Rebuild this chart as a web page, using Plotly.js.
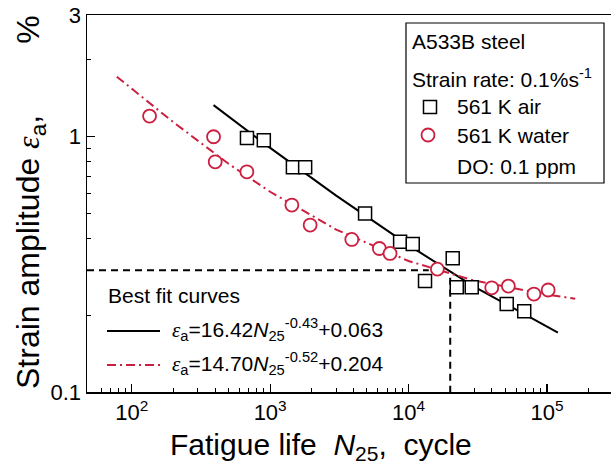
<!DOCTYPE html>
<html><head><meta charset="utf-8">
<script src="https://cdn.plot.ly/plotly-3.0.1.min.js"></script>
<style>html,body{margin:0;padding:0;overflow:hidden;background:#fff}</style>
</head><body><div id="chart" style="width:620px;height:471px"></div>
<script>
// ---- data ----
const airN = [680, 900, 1460, 1790, 4850, 8690, 10720, 13150, 20850, 22300, 28600, 51200, 68500];
const airStrain = [0.99, 0.97, 0.76, 0.76, 0.50, 0.388, 0.380, 0.272, 0.334, 0.257, 0.257, 0.221, 0.207];
const waterN = [134.5, 390, 401, 679, 1435, 1945, 3890, 6150, 7350, 16150, 39900, 52600, 80500, 102000];
const waterStrain = [1.205, 1.0, 0.798, 0.729, 0.540, 0.451, 0.396, 0.365, 0.349, 0.303, 0.256, 0.260, 0.242, 0.251];
const fitAirN = [390, 1000, 3000, 10000, 30000, 120000];
const fitAirStrain = [1.33, 0.905, 0.588, 0.376, 0.258, 0.171];
const fitWaterN = [78, 200, 500, 1000, 3000, 10000, 30000, 100000, 160000];
const fitWaterStrain = [1.72, 1.14, 0.784, 0.609, 0.433, 0.326, 0.273, 0.241, 0.232];
const refHN = [47.5, 14000];
const refHStrain = [0.3, 0.3];
const refVN = [20000, 20000];
const refVStrain = [0.28, 0.1];
const xTickVals = [100, 1000, 10000, 100000];
const xTickText = ['10<sup>2</sup>', '10<sup>3</sup>', '10<sup>4</sup>', '10<sup>5</sup>'];
const xMinorVals = [60,70,80,90,200,300,400,500,600,700,800,900,2000,3000,4000,5000,6000,7000,8000,9000,
                    20000,30000,40000,50000,60000,70000,80000,90000,200000];
const yTickVals = [0.1, 1, 3];
const yTickText = ['0.1', '1', '3'];
const yMinorVals = [0.2, 0.3, 0.4, 0.5, 0.6, 0.7, 0.8, 0.9, 2];
const airLabel = '561 K air';
const waterLabel = '561 K water';
const EPS = '<span style="font-family:Liberation Serif"><i>ε</i></span>';
const fitAirLabel = EPS + '<sub>a</sub>=16.42<i>N</i><sub>25</sub><sup>-0.43</sup>+0.063';
const fitWaterLabel = EPS + '<sub>a</sub>=14.70<i>N</i><sub>25</sub><sup>-0.52</sup>+0.204';

// ---- layout helpers ----
const L = 87, T = 15, W = 526, H = 377;
const px = x => (x - L) / W;
const py = y => (T + H - y) / H;
const RED = '#cc1f3f';
const FONT = 'Liberation Sans, Arial, sans-serif';
const LF = 21;
const NB = '\u00a0';

const traces = [
  {x: refHN, y: refHStrain, mode: 'lines', line: {color: 'black', width: 2, dash: '7px,5px'}, showlegend: false, hoverinfo: 'skip'},
  {x: refVN, y: refVStrain, mode: 'lines', line: {color: 'black', width: 2, dash: '7px,5px'}, showlegend: false, hoverinfo: 'skip'},
  {x: fitAirN, y: fitAirStrain, mode: 'lines', name: fitAirLabel, line: {color: 'black', width: 2}, showlegend: false},
  {x: fitWaterN, y: fitWaterStrain, mode: 'lines', name: fitWaterLabel, line: {color: RED, width: 2, dash: '9px,4px,2px,4px'}, showlegend: false},
  {x: airN, y: airStrain, mode: 'markers', name: airLabel, showlegend: false,
   marker: {symbol: 'square', size: 13, color: 'white', line: {color: 'black', width: 1.5}}},
  {x: waterN, y: waterStrain, mode: 'markers', name: waterLabel, showlegend: false,
   marker: {symbol: 'circle', size: 13, color: 'white', line: {color: RED, width: 1.8}}}
];

function ann(x, y, text, size, extra) {
  return Object.assign({xref: 'paper', yref: 'paper', x: px(x), y: py(y), xanchor: 'left', yanchor: 'middle',
    showarrow: false, text: text, font: {size: size || LF}}, extra || {});
}

const layout = {
  width: 620, height: 471,
  margin: {l: L, r: 620 - L - W, t: T, b: 471 - T - H},
  paper_bgcolor: 'white', plot_bgcolor: 'white',
  font: {family: FONT, color: 'black', size: 20},
  showlegend: false,
  xaxis: {
    type: 'log', range: [Math.log10(47.5), Math.log10(3e5)],
    tickmode: 'array', tickvals: xTickVals, ticktext: xTickText,
    ticks: 'inside', ticklen: 8, tickwidth: 1.2, tickcolor: 'black',
    showline: true, linecolor: 'black', linewidth: 1.5, mirror: true,
    showgrid: false, zeroline: false, tickfont: {size: 22},
    minor: {tickmode: 'array', tickvals: xMinorVals, ticks: 'inside', ticklen: 4, tickwidth: 1, tickcolor: 'black', showgrid: false}
  },
  yaxis: {
    type: 'log', range: [-1, Math.log10(3)],
    tickmode: 'array', tickvals: yTickVals, ticktext: yTickText,
    ticks: 'inside', ticklen: 8, tickwidth: 1.2, tickcolor: 'black',
    showline: true, linecolor: 'black', linewidth: 1.5, mirror: true,
    showgrid: false, zeroline: false, tickfont: {size: 22},
    minor: {tickmode: 'array', tickvals: yMinorVals, ticks: 'inside', ticklen: 4, tickwidth: 1, tickcolor: 'black', showgrid: false}
  },
  shapes: [
    {type: 'rect', xref: 'paper', yref: 'paper', x0: px(406), x1: px(604), y0: py(23), y1: py(183),
     line: {color: 'black', width: 1.2}, fillcolor: 'rgba(0,0,0,0)'},
    // legend keys
    {type: 'rect', xref: 'paper', yref: 'paper', x0: px(423.5), x1: px(436.5), y0: py(100.5), y1: py(113.5),
     line: {color: 'black', width: 1.5}, fillcolor: 'white'},
    {type: 'circle', xref: 'paper', yref: 'paper', x0: px(421.5), x1: px(434.5), y0: py(128.5), y1: py(141.5),
     line: {color: RED, width: 1.8}, fillcolor: 'white'},
    {type: 'line', xref: 'paper', yref: 'paper', x0: px(107), x1: px(160), y0: py(331), y1: py(331),
     line: {color: 'black', width: 2}},
    {type: 'line', xref: 'paper', yref: 'paper', x0: px(107), x1: px(160), y0: py(365), y1: py(365),
     line: {color: RED, width: 2, dash: '9px,4px,2px,4px'}}
  ],
  annotations: [
    ann(410, 41, 'A533B steel'),
    ann(410, 78, 'Strain rate: 0.1%s<sup>-1</sup>'),
    ann(455, 107, airLabel),
    ann(455, 135, waterLabel),
    ann(455, 166, 'DO: 0.1 ppm'),
    ann(106, 295, 'Best fit curves'),
    ann(170, 329, fitAirLabel),
    ann(170, 363, fitWaterLabel),
    {xref: 'paper', yref: 'paper', x: px(30), y: py(202), xanchor: 'center', yanchor: 'middle', showarrow: false,
     textangle: -90, font: {size: 32},
     text: 'Strain amplitude ' + EPS + '<sub>a</sub>,' + NB.repeat(8) + '%'},
    {xref: 'paper', yref: 'paper', x: px(321), y: py(446), xanchor: 'center', yanchor: 'middle', showarrow: false,
     font: {size: 30},
     text: 'Fatigue life' + NB + NB + '<i>N</i><sub>25</sub>,' + NB + NB + 'cycle'}
  ]
};

Plotly.newPlot('chart', traces, layout, {displayModeBar: false, staticPlot: true});
</script>
</body></html>
